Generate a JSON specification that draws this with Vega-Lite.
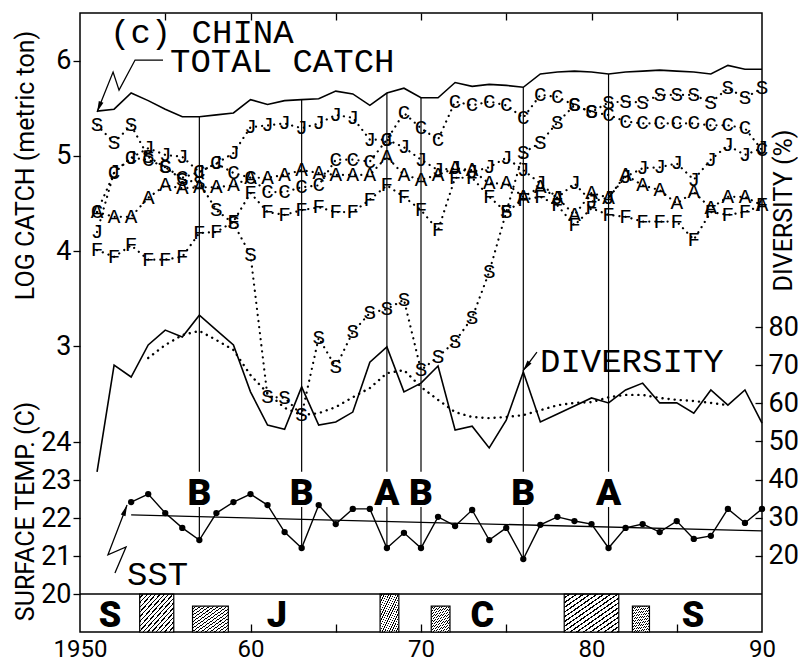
{
"$schema":"https://vega.github.io/schema/vega-lite/v6.json",
"width":682,"height":619,
"autosize":{"type":"none"},
"padding":{"left":80,"top":13,"right":36,"bottom":31},
"background":"white",
"config":{"view":{"stroke":"black","strokeWidth":1.5},
"axis":{"grid":false,"domain":false,"labelColor":"black","tickColor":"black","tickWidth":1.3,"labelFont":"Roboto","labelFontSize":27,"titleFont":"Roboto","titleFontSize":25,"titleFontWeight":"normal","titleColor":"black"}},
"datasets":{
"catch":[
{"year":1951,"s":"S","v":5.32},{"year":1952,"s":"S","v":5.14},{"year":1953,"s":"S","v":5.32},{"year":1954,"s":"S","v":4.99},{"year":1955,"s":"S","v":4.88},{"year":1956,"s":"S","v":4.75},{"year":1957,"s":"S","v":4.72},{"year":1958,"s":"S","v":4.43},{"year":1959,"s":"S","v":4.29},{"year":1960,"s":"S","v":3.96},{"year":1961,"s":"S","v":2.47},{"year":1962,"s":"S","v":2.46},{"year":1963,"s":"S","v":2.28},{"year":1964,"s":"S","v":3.09},{"year":1965,"s":"S","v":2.78},{"year":1966,"s":"S","v":3.15},{"year":1967,"s":"S","v":3.35},{"year":1968,"s":"S","v":3.39},{"year":1969,"s":"S","v":3.49},{"year":1970,"s":"S","v":2.75},{"year":1971,"s":"S","v":2.89},{"year":1972,"s":"S","v":3.05},{"year":1973,"s":"S","v":3.30},{"year":1974,"s":"S","v":3.78},{"year":1975,"s":"S","v":4.41},{"year":1976,"s":"S","v":5.03},{"year":1977,"s":"S","v":5.14},{"year":1978,"s":"S","v":5.35},{"year":1979,"s":"S","v":5.53},{"year":1980,"s":"S","v":5.46},{"year":1981,"s":"S","v":5.56},{"year":1982,"s":"S","v":5.57},{"year":1983,"s":"S","v":5.56},{"year":1984,"s":"S","v":5.64},{"year":1985,"s":"S","v":5.64},{"year":1986,"s":"S","v":5.64},{"year":1987,"s":"S","v":5.56},{"year":1988,"s":"S","v":5.71},{"year":1989,"s":"S","v":5.61},{"year":1990,"s":"S","v":5.71},
{"year":1951,"s":"J","v":4.20},{"year":1952,"s":"J","v":4.83},{"year":1953,"s":"J","v":4.98},{"year":1954,"s":"J","v":5.08},{"year":1955,"s":"J","v":5.01},{"year":1956,"s":"J","v":4.99},{"year":1957,"s":"J","v":4.83},{"year":1958,"s":"J","v":4.92},{"year":1959,"s":"J","v":5.03},{"year":1960,"s":"J","v":5.30},{"year":1961,"s":"J","v":5.32},{"year":1962,"s":"J","v":5.34},{"year":1963,"s":"J","v":5.29},{"year":1964,"s":"J","v":5.34},{"year":1965,"s":"J","v":5.43},{"year":1966,"s":"J","v":5.40},{"year":1967,"s":"J","v":5.17},{"year":1968,"s":"J","v":5.17},{"year":1969,"s":"J","v":5.09},{"year":1970,"s":"J","v":4.96},{"year":1971,"s":"J","v":4.85},{"year":1972,"s":"J","v":4.87},{"year":1973,"s":"J","v":4.83},{"year":1974,"s":"J","v":4.88},{"year":1975,"s":"J","v":4.98},{"year":1976,"s":"J","v":4.85},{"year":1977,"s":"J","v":4.71},{"year":1978,"s":"J","v":4.56},{"year":1979,"s":"J","v":4.71},{"year":1980,"s":"J","v":4.52},{"year":1981,"s":"J","v":4.56},{"year":1982,"s":"J","v":4.78},{"year":1983,"s":"J","v":4.87},{"year":1984,"s":"J","v":4.88},{"year":1985,"s":"J","v":4.92},{"year":1986,"s":"J","v":4.75},{"year":1987,"s":"J","v":4.96},{"year":1988,"s":"J","v":5.11},{"year":1989,"s":"J","v":5.01},{"year":1990,"s":"J","v":5.08},
{"year":1951,"s":"C","v":4.41},{"year":1952,"s":"C","v":4.82},{"year":1953,"s":"C","v":4.98},{"year":1954,"s":"C","v":4.96},{"year":1955,"s":"C","v":4.88},{"year":1956,"s":"C","v":4.77},{"year":1957,"s":"C","v":4.83},{"year":1958,"s":"C","v":4.92},{"year":1959,"s":"C","v":4.82},{"year":1960,"s":"C","v":4.77},{"year":1961,"s":"C","v":4.62},{"year":1962,"s":"C","v":4.62},{"year":1963,"s":"C","v":4.67},{"year":1964,"s":"C","v":4.69},{"year":1965,"s":"C","v":4.96},{"year":1966,"s":"C","v":4.96},{"year":1967,"s":"C","v":4.94},{"year":1968,"s":"C","v":5.17},{"year":1969,"s":"C","v":5.45},{"year":1970,"s":"C","v":5.29},{"year":1971,"s":"C","v":5.17},{"year":1972,"s":"C","v":5.57},{"year":1973,"s":"C","v":5.53},{"year":1974,"s":"C","v":5.57},{"year":1975,"s":"C","v":5.53},{"year":1976,"s":"C","v":5.40},{"year":1977,"s":"C","v":5.64},{"year":1978,"s":"C","v":5.62},{"year":1979,"s":"C","v":5.53},{"year":1980,"s":"C","v":5.46},{"year":1981,"s":"C","v":5.43},{"year":1982,"s":"C","v":5.36},{"year":1983,"s":"C","v":5.34},{"year":1984,"s":"C","v":5.34},{"year":1985,"s":"C","v":5.34},{"year":1986,"s":"C","v":5.34},{"year":1987,"s":"C","v":5.32},{"year":1988,"s":"C","v":5.32},{"year":1989,"s":"C","v":5.29},{"year":1990,"s":"C","v":5.06},
{"year":1951,"s":"A","v":4.41},{"year":1952,"s":"A","v":4.36},{"year":1953,"s":"A","v":4.36},{"year":1954,"s":"A","v":4.56},{"year":1955,"s":"A","v":4.69},{"year":1956,"s":"A","v":4.66},{"year":1957,"s":"A","v":4.67},{"year":1958,"s":"A","v":4.67},{"year":1959,"s":"A","v":4.69},{"year":1960,"s":"A","v":4.77},{"year":1961,"s":"A","v":4.77},{"year":1962,"s":"A","v":4.80},{"year":1963,"s":"A","v":4.85},{"year":1964,"s":"A","v":4.82},{"year":1965,"s":"A","v":4.80},{"year":1966,"s":"A","v":4.80},{"year":1967,"s":"A","v":4.80},{"year":1968,"s":"A","v":4.99},{"year":1969,"s":"A","v":4.80},{"year":1970,"s":"A","v":4.75},{"year":1971,"s":"A","v":4.80},{"year":1972,"s":"A","v":4.87},{"year":1973,"s":"A","v":4.85},{"year":1974,"s":"A","v":4.71},{"year":1975,"s":"A","v":4.71},{"year":1976,"s":"A","v":4.57},{"year":1977,"s":"A","v":4.67},{"year":1978,"s":"A","v":4.56},{"year":1979,"s":"A","v":4.38},{"year":1980,"s":"A","v":4.61},{"year":1981,"s":"A","v":4.56},{"year":1982,"s":"A","v":4.80},{"year":1983,"s":"A","v":4.69},{"year":1984,"s":"A","v":4.64},{"year":1985,"s":"A","v":4.50},{"year":1986,"s":"A","v":4.62},{"year":1987,"s":"A","v":4.45},{"year":1988,"s":"A","v":4.57},{"year":1989,"s":"A","v":4.57},{"year":1990,"s":"A","v":4.48},
{"year":1951,"s":"F","v":4.01},{"year":1952,"s":"F","v":3.94},{"year":1953,"s":"F","v":4.06},{"year":1954,"s":"F","v":3.91},{"year":1955,"s":"F","v":3.91},{"year":1956,"s":"F","v":3.94},{"year":1957,"s":"F","v":4.19},{"year":1958,"s":"F","v":4.20},{"year":1959,"s":"F","v":4.31},{"year":1960,"s":"F","v":4.61},{"year":1961,"s":"F","v":4.41},{"year":1962,"s":"F","v":4.38},{"year":1963,"s":"F","v":4.43},{"year":1964,"s":"F","v":4.46},{"year":1965,"s":"F","v":4.41},{"year":1966,"s":"F","v":4.41},{"year":1967,"s":"F","v":4.54},{"year":1968,"s":"F","v":4.69},{"year":1969,"s":"F","v":4.57},{"year":1970,"s":"F","v":4.43},{"year":1971,"s":"F","v":4.22},{"year":1972,"s":"F","v":4.77},{"year":1973,"s":"F","v":4.77},{"year":1974,"s":"F","v":4.57},{"year":1975,"s":"F","v":4.41},{"year":1976,"s":"F","v":4.54},{"year":1977,"s":"F","v":4.57},{"year":1978,"s":"F","v":4.48},{"year":1979,"s":"F","v":4.27},{"year":1980,"s":"F","v":4.45},{"year":1981,"s":"F","v":4.38},{"year":1982,"s":"F","v":4.36},{"year":1983,"s":"F","v":4.31},{"year":1984,"s":"F","v":4.31},{"year":1985,"s":"F","v":4.31},{"year":1986,"s":"F","v":4.12},{"year":1987,"s":"F","v":4.41},{"year":1988,"s":"F","v":4.38},{"year":1989,"s":"F","v":4.41},{"year":1990,"s":"F","v":4.48}
],
"total":[
{"year":1951,"v":5.47},{"year":1952,"v":5.49},{"year":1953,"v":5.66},{"year":1954,"v":5.58},{"year":1955,"v":5.49},{"year":1956,"v":5.41},{"year":1957,"v":5.41},{"year":1958,"v":5.43},{"year":1959,"v":5.45},{"year":1960,"v":5.59},{"year":1961,"v":5.54},{"year":1962,"v":5.58},{"year":1963,"v":5.59},{"year":1964,"v":5.60},{"year":1965,"v":5.68},{"year":1966,"v":5.65},{"year":1967,"v":5.53},{"year":1968,"v":5.66},{"year":1969,"v":5.71},{"year":1970,"v":5.61},{"year":1971,"v":5.61},{"year":1972,"v":5.77},{"year":1973,"v":5.73},{"year":1974,"v":5.75},{"year":1975,"v":5.74},{"year":1976,"v":5.72},{"year":1977,"v":5.86},{"year":1978,"v":5.88},{"year":1979,"v":5.89},{"year":1980,"v":5.88},{"year":1981,"v":5.86},{"year":1982,"v":5.88},{"year":1983,"v":5.89},{"year":1984,"v":5.90},{"year":1985,"v":5.89},{"year":1986,"v":5.88},{"year":1987,"v":5.86},{"year":1988,"v":5.95},{"year":1989,"v":5.91},{"year":1990,"v":5.91}
],
"events":[
{"year":1957,"lab":"B","tc":5.41,"sst":21.42},{"year":1963,"lab":"B","tc":5.59,"sst":21.21},{"year":1968,"lab":"A","tc":5.66,"sst":21.21},{"year":1970,"lab":"B","tc":5.61,"sst":21.21},{"year":1976,"lab":"B","tc":5.72,"sst":20.92},{"year":1981,"lab":"A","tc":5.86,"sst":21.21}
],
"div":[
{"year":1951,"v":42.0},{"year":1952,"v":70.0},{"year":1953,"v":66.9},{"year":1954,"v":75.3},{"year":1955,"v":79.2},{"year":1956,"v":77.4},{"year":1957,"v":83.1},{"year":1958,"v":79.2},{"year":1959,"v":75.3},{"year":1960,"v":63.0},{"year":1961,"v":54.3},{"year":1962,"v":53.2},{"year":1963,"v":64.3},{"year":1964,"v":54.3},{"year":1965,"v":55.1},{"year":1966,"v":57.7},{"year":1967,"v":70.8},{"year":1968,"v":74.8},{"year":1969,"v":63.0},{"year":1970,"v":65.3},{"year":1971,"v":69.8},{"year":1972,"v":53.0},{"year":1973,"v":54.0},{"year":1974,"v":48.3},{"year":1975,"v":55.6},{"year":1976,"v":68.2},{"year":1977,"v":55.1},{"year":1978,"v":57.2},{"year":1979,"v":59.3},{"year":1980,"v":61.4},{"year":1981,"v":60.1},{"year":1982,"v":63.5},{"year":1983,"v":65.3},{"year":1984,"v":60.1},{"year":1985,"v":60.1},{"year":1986,"v":57.4},{"year":1987,"v":63.5},{"year":1988,"v":59.5},{"year":1989,"v":63.5},{"year":1990,"v":54.8}
],
"divsmooth":[
{"year":1954,"v":71.9},{"year":1955,"v":75.3},{"year":1956,"v":77.9},{"year":1957,"v":79.0},{"year":1958,"v":76.6},{"year":1959,"v":74.0},{"year":1960,"v":67.4},{"year":1961,"v":62.7},{"year":1962,"v":58.8},{"year":1963,"v":56.9},{"year":1964,"v":57.4},{"year":1965,"v":59.0},{"year":1966,"v":61.6},{"year":1967,"v":64.0},{"year":1968,"v":67.9},{"year":1969,"v":68.7},{"year":1970,"v":64.3},{"year":1971,"v":60.9},{"year":1972,"v":57.7},{"year":1973,"v":56.4},{"year":1974,"v":56.1},{"year":1975,"v":56.4},{"year":1976,"v":56.9},{"year":1977,"v":58.2},{"year":1978,"v":59.5},{"year":1979,"v":60.1},{"year":1980,"v":60.3},{"year":1981,"v":61.6},{"year":1982,"v":62.2},{"year":1983,"v":62.2},{"year":1984,"v":61.4},{"year":1985,"v":60.9},{"year":1986,"v":60.6},{"year":1987,"v":60.1},{"year":1988,"v":59.5}
],
"sst":[
{"year":1953,"v":22.42},{"year":1954,"v":22.63},{"year":1955,"v":22.13},{"year":1956,"v":21.74},{"year":1957,"v":21.42},{"year":1958,"v":22.13},{"year":1959,"v":22.42},{"year":1960,"v":22.63},{"year":1961,"v":22.34},{"year":1962,"v":21.63},{"year":1963,"v":21.21},{"year":1964,"v":22.34},{"year":1965,"v":21.84},{"year":1966,"v":22.24},{"year":1967,"v":22.24},{"year":1968,"v":21.21},{"year":1969,"v":21.61},{"year":1970,"v":21.21},{"year":1971,"v":22.03},{"year":1972,"v":21.79},{"year":1973,"v":22.21},{"year":1974,"v":21.42},{"year":1975,"v":21.74},{"year":1976,"v":20.92},{"year":1977,"v":21.82},{"year":1978,"v":22.03},{"year":1979,"v":21.92},{"year":1980,"v":21.84},{"year":1981,"v":21.21},{"year":1982,"v":21.74},{"year":1983,"v":21.84},{"year":1984,"v":21.63},{"year":1985,"v":21.92},{"year":1986,"v":21.45},{"year":1987,"v":21.53},{"year":1988,"v":22.24},{"year":1989,"v":21.87},{"year":1990,"v":22.24}
],
"trend":[{"year":1953,"v":22.08},{"year":1990,"v":21.66}],
"boxes":[
{"x1":1953.5,"x2":1955.5,"top":20},{"x1":1956.6,"x2":1958.7,"top":19.68},{"x1":1967.6,"x2":1968.7,"top":20},{"x1":1970.6,"x2":1971.7,"top":19.68},{"x1":1978.4,"x2":1981.6,"top":20},{"x1":1982.4,"x2":1983.4,"top":19.68}
],
"regimes":[{"year":1951.76,"lab":"S"},{"year":1961.55,"lab":"J"},{"year":1973.6,"lab":"C"},{"year":1985.95,"lab":"S"}],
"leadCatch":[{"year":1954.87,"v":6.006,"o":1},{"year":1953.23,"v":6.006,"o":2},{"year":1952.29,"v":5.69,"o":3},{"year":1951.94,"v":5.88,"o":4},{"year":1951.0,"v":5.46,"o":5}],
"leadDiv":[{"year":1976.8,"v":73.4,"o":1},{"year":1975.98,"v":68.5,"o":2}],
"leadSst":[{"year":1952.05,"v":20.55,"o":1},{"year":1952.7,"v":21.24,"o":2},{"year":1951.64,"v":21.03,"o":3},{"year":1952.76,"v":22.34,"o":4}]
},
"resolve":{"scale":{"x":"independent","y":"independent"}},
"layer":[
{"layer":[
 {"data":{"name":"catch"},"mark":{"type":"line","color":"black","strokeDash":[0.1,6],"strokeCap":"round","strokeWidth":2.2},
  "encoding":{"x":{"field":"year","type":"quantitative","scale":{"domain":[1950,1990],"nice":false,"zero":false},"axis":{"orient":"bottom","values":[1950,1960,1970,1980,1990],"ticks":false,"labelPadding":5,"labelFontSize":24,"labelFlush":false,"title":null,"labelExpr":"datum.value == 1950 ? '1950' : '' + (datum.value % 100)"}},
   "y":{"field":"v","type":"quantitative","scale":{"domain":[0,6.5],"nice":false,"zero":false},"axis":{"orient":"left","values":[3,4,5,6],"format":"d","tickSize":7,"labelPadding":2,"title":"LOG CATCH (metric ton)","titleAngle":270,"titleX":-55,"titleY":152,"titleAlign":"center","titleBaseline":"middle"}},
   "detail":{"field":"s","type":"nominal"}}},
 {"data":{"name":"catch"},"mark":{"type":"text","font":"Liberation Mono, DejaVu Sans Mono, monospace","fontSize":21,"color":"black","baseline":"middle","align":"center"},
  "encoding":{"x":{"field":"year","type":"quantitative","scale":{"domain":[1950,1990],"nice":false,"zero":false}},
   "y":{"field":"v","type":"quantitative","scale":{"domain":[0,6.5],"nice":false,"zero":false}},
   "text":{"field":"s","type":"nominal"}}},
 {"data":{"name":"total"},"mark":{"type":"line","color":"black","strokeWidth":1.6},
  "encoding":{"x":{"field":"year","type":"quantitative","scale":{"domain":[1950,1990],"nice":false,"zero":false}},
   "y":{"field":"v","type":"quantitative","scale":{"domain":[0,6.5],"nice":false,"zero":false}}}},
 {"data":{"name":"events"},"mark":{"type":"rule","color":"black","strokeWidth":1.2},
  "encoding":{"x":{"field":"year","type":"quantitative","scale":{"domain":[1950,1990],"nice":false,"zero":false}},
   "y":{"field":"tc","type":"quantitative","scale":{"domain":[0,6.5],"nice":false,"zero":false}},
   "y2":{"datum":1.683}}},
 {"data":{"values":[{}]},"mark":{"type":"text","text":"(c) CHINA","font":"Liberation Mono, DejaVu Sans Mono, monospace","fontSize":34,"color":"black","align":"left","baseline":"alphabetic"},
  "encoding":{"x":{"datum":1951.76,"type":"quantitative","scale":{"domain":[1950,1990],"nice":false,"zero":false}},
   "y":{"datum":6.18,"type":"quantitative","scale":{"domain":[0,6.5],"nice":false,"zero":false}}}},
 {"data":{"values":[{}]},"mark":{"type":"text","text":"TOTAL CATCH","font":"Liberation Mono, DejaVu Sans Mono, monospace","fontSize":34,"color":"black","align":"left","baseline":"alphabetic"},
  "encoding":{"x":{"datum":1955.28,"type":"quantitative","scale":{"domain":[1950,1990],"nice":false,"zero":false}},
   "y":{"datum":5.88,"type":"quantitative","scale":{"domain":[0,6.5],"nice":false,"zero":false}}}},
 {"data":{"name":"leadCatch"},"mark":{"type":"line","color":"black","strokeWidth":1.3},
  "encoding":{"x":{"field":"year","type":"quantitative","scale":{"domain":[1950,1990],"nice":false,"zero":false}},
   "y":{"field":"v","type":"quantitative","scale":{"domain":[0,6.5],"nice":false,"zero":false}},
   "order":{"field":"o","type":"quantitative"}}},
 {"data":{"values":[{}]},"mark":{"type":"point","shape":"M0,0L0.5,2.2L-0.5,2.2Z","filled":true,"size":100,"angle":201.8,"color":"black","opacity":1},
  "encoding":{"x":{"datum":1951.0,"type":"quantitative","scale":{"domain":[1950,1990],"nice":false,"zero":false}},
   "y":{"datum":5.46,"type":"quantitative","scale":{"domain":[0,6.5],"nice":false,"zero":false}}}}
]},
{"layer":[
 {"data":{"name":"boxes"},"mark":{"type":"rect","stroke":"black","strokeWidth":1.2,"fill":{"gradient":"linear","x1":0,"y1":0,"x2":1,"y2":1,"stops":[
 {"offset":0,"color":"white"},{"offset":0.043,"color":"white"},{"offset":0.043,"color":"black"},{"offset":0.0625,"color":"black"},
 {"offset":0.0625,"color":"white"},{"offset":0.1055,"color":"white"},{"offset":0.1055,"color":"black"},{"offset":0.125,"color":"black"},
 {"offset":0.125,"color":"white"},{"offset":0.168,"color":"white"},{"offset":0.168,"color":"black"},{"offset":0.1875,"color":"black"},
 {"offset":0.1875,"color":"white"},{"offset":0.2305,"color":"white"},{"offset":0.2305,"color":"black"},{"offset":0.25,"color":"black"},
 {"offset":0.25,"color":"white"},{"offset":0.293,"color":"white"},{"offset":0.293,"color":"black"},{"offset":0.3125,"color":"black"},
 {"offset":0.3125,"color":"white"},{"offset":0.3555,"color":"white"},{"offset":0.3555,"color":"black"},{"offset":0.375,"color":"black"},
 {"offset":0.375,"color":"white"},{"offset":0.418,"color":"white"},{"offset":0.418,"color":"black"},{"offset":0.4375,"color":"black"},
 {"offset":0.4375,"color":"white"},{"offset":0.4805,"color":"white"},{"offset":0.4805,"color":"black"},{"offset":0.5,"color":"black"},
 {"offset":0.5,"color":"white"},{"offset":0.543,"color":"white"},{"offset":0.543,"color":"black"},{"offset":0.5625,"color":"black"},
 {"offset":0.5625,"color":"white"},{"offset":0.6055,"color":"white"},{"offset":0.6055,"color":"black"},{"offset":0.625,"color":"black"},
 {"offset":0.625,"color":"white"},{"offset":0.668,"color":"white"},{"offset":0.668,"color":"black"},{"offset":0.6875,"color":"black"},
 {"offset":0.6875,"color":"white"},{"offset":0.7305,"color":"white"},{"offset":0.7305,"color":"black"},{"offset":0.75,"color":"black"},
 {"offset":0.75,"color":"white"},{"offset":0.793,"color":"white"},{"offset":0.793,"color":"black"},{"offset":0.8125,"color":"black"},
 {"offset":0.8125,"color":"white"},{"offset":0.8555,"color":"white"},{"offset":0.8555,"color":"black"},{"offset":0.875,"color":"black"},
 {"offset":0.875,"color":"white"},{"offset":0.918,"color":"white"},{"offset":0.918,"color":"black"},{"offset":0.9375,"color":"black"},
 {"offset":0.9375,"color":"white"},{"offset":0.9805,"color":"white"},{"offset":0.9805,"color":"black"},{"offset":1,"color":"black"}]}},
  "encoding":{"x":{"field":"x1","type":"quantitative","scale":{"domain":[1950,1990],"nice":false,"zero":false},"axis":{"orient":"bottom","offset":-8,"tickSize":8,"labels":false,"values":[1955,1960,1965,1970,1975,1980,1985],"title":null}},
   "x2":{"field":"x2"},
   "y":{"field":"top","type":"quantitative","scale":{"domain":[19,35.29],"nice":false,"zero":false},"axis":{"orient":"left","values":[20,21,22,23,24],"format":"d","tickSize":7,"labelPadding":2,"title":"SURFACE TEMP. (C)","titleAngle":270,"titleX":-55,"titleY":498,"titleAlign":"center","titleBaseline":"middle"}},
   "y2":{"datum":19}}},
 {"data":{"values":[{"v":20}]},"mark":{"type":"rule","color":"black","strokeWidth":1.5},
  "encoding":{"y":{"field":"v","type":"quantitative","scale":{"domain":[19,35.29],"nice":false,"zero":false}}}},
 {"data":{"name":"regimes"},"mark":{"type":"text","font":"Roboto","fontWeight":900,"fontSize":36,"color":"black","align":"center","baseline":"alphabetic"},
  "encoding":{"x":{"field":"year","type":"quantitative","scale":{"domain":[1950,1990],"nice":false,"zero":false}},
   "y":{"datum":19.13,"type":"quantitative","scale":{"domain":[19,35.29],"nice":false,"zero":false}},
   "text":{"field":"lab","type":"nominal"}}},
 {"data":{"name":"events"},"mark":{"type":"text","font":"Roboto","fontWeight":900,"fontSize":37,"color":"black","align":"center","baseline":"alphabetic"},
  "encoding":{"x":{"field":"year","type":"quantitative","scale":{"domain":[1950,1990],"nice":false,"zero":false}},
   "y":{"datum":22.34,"type":"quantitative","scale":{"domain":[19,35.29],"nice":false,"zero":false}},
   "text":{"field":"lab","type":"nominal"}}},
 {"data":{"name":"events"},"mark":{"type":"rule","color":"black","strokeWidth":1.2},
  "encoding":{"x":{"field":"year","type":"quantitative","scale":{"domain":[1950,1990],"nice":false,"zero":false}},
   "y":{"field":"sst","type":"quantitative","scale":{"domain":[19,35.29],"nice":false,"zero":false}},
   "y2":{"datum":22.29}}},
 {"data":{"name":"trend"},"mark":{"type":"line","color":"black","strokeWidth":1.3},
  "encoding":{"x":{"field":"year","type":"quantitative","scale":{"domain":[1950,1990],"nice":false,"zero":false}},
   "y":{"field":"v","type":"quantitative","scale":{"domain":[19,35.29],"nice":false,"zero":false}}}},
 {"data":{"name":"sst"},"mark":{"type":"line","color":"black","strokeWidth":1.4},
  "encoding":{"x":{"field":"year","type":"quantitative","scale":{"domain":[1950,1990],"nice":false,"zero":false}},
   "y":{"field":"v","type":"quantitative","scale":{"domain":[19,35.29],"nice":false,"zero":false}}}},
 {"data":{"name":"sst"},"mark":{"type":"circle","color":"black","size":40,"opacity":1},
  "encoding":{"x":{"field":"year","type":"quantitative","scale":{"domain":[1950,1990],"nice":false,"zero":false}},
   "y":{"field":"v","type":"quantitative","scale":{"domain":[19,35.29],"nice":false,"zero":false}}}},
 {"data":{"values":[{}]},"mark":{"type":"text","text":"SST","font":"Liberation Mono, DejaVu Sans Mono, monospace","fontSize":34,"color":"black","align":"left","baseline":"alphabetic"},
  "encoding":{"x":{"datum":1952.76,"type":"quantitative","scale":{"domain":[1950,1990],"nice":false,"zero":false}},
   "y":{"datum":20.24,"type":"quantitative","scale":{"domain":[19,35.29],"nice":false,"zero":false}}}},
 {"data":{"name":"leadSst"},"mark":{"type":"line","color":"black","strokeWidth":1.3},
  "encoding":{"x":{"field":"year","type":"quantitative","scale":{"domain":[1950,1990],"nice":false,"zero":false}},
   "y":{"field":"v","type":"quantitative","scale":{"domain":[19,35.29],"nice":false,"zero":false}},
   "order":{"field":"o","type":"quantitative"}}},
 {"data":{"values":[{}]},"mark":{"type":"point","shape":"M0,0L0.5,2.2L-0.5,2.2Z","filled":true,"size":100,"angle":20.8,"color":"black","opacity":1},
  "encoding":{"x":{"datum":1952.76,"type":"quantitative","scale":{"domain":[1950,1990],"nice":false,"zero":false}},
   "y":{"datum":22.34,"type":"quantitative","scale":{"domain":[19,35.29],"nice":false,"zero":false}}}}
]},
{"layer":[
 {"data":{"name":"div"},"mark":{"type":"line","color":"black","strokeWidth":1.6},
  "encoding":{"x":{"field":"year","type":"quantitative","scale":{"domain":[1950,1990],"nice":false,"zero":false},"axis":{"orient":"top","offset":-7,"tickSize":7,"labels":false,"values":[1955,1960,1965,1970,1975,1980,1985],"title":null}},
   "y":{"field":"v","type":"quantitative","scale":{"domain":[0,162.4],"nice":false,"zero":false},"axis":{"orient":"right","offset":-7,"tickSize":7,"labelPadding":6,"values":[20,30,40,50,60,70,80],"format":"d","title":"DIVERSITY (%)","titleAngle":270,"titleX":28,"titleY":197,"titleAlign":"center","titleBaseline":"middle"}}}},
 {"data":{"name":"divsmooth"},"mark":{"type":"line","color":"black","strokeDash":[0.1,6],"strokeCap":"round","strokeWidth":2.4},
  "encoding":{"x":{"field":"year","type":"quantitative","scale":{"domain":[1950,1990],"nice":false,"zero":false}},
   "y":{"field":"v","type":"quantitative","scale":{"domain":[0,162.4],"nice":false,"zero":false}}}},
 {"data":{"values":[{}]},"mark":{"type":"text","text":"DIVERSITY","font":"Liberation Mono, DejaVu Sans Mono, monospace","fontSize":34,"color":"black","align":"left","baseline":"alphabetic"},
  "encoding":{"x":{"datum":1976.98,"type":"quantitative","scale":{"domain":[1950,1990],"nice":false,"zero":false}},
   "y":{"datum":68.2,"type":"quantitative","scale":{"domain":[0,162.4],"nice":false,"zero":false}}}},
 {"data":{"name":"leadDiv"},"mark":{"type":"line","color":"black","strokeWidth":1.3},
  "encoding":{"x":{"field":"year","type":"quantitative","scale":{"domain":[1950,1990],"nice":false,"zero":false}},
   "y":{"field":"v","type":"quantitative","scale":{"domain":[0,162.4],"nice":false,"zero":false}},
   "order":{"field":"o","type":"quantitative"}}},
 {"data":{"values":[{}]},"mark":{"type":"point","shape":"M0,0L0.5,2.2L-0.5,2.2Z","filled":true,"size":100,"angle":216.4,"color":"black","opacity":1},
  "encoding":{"x":{"datum":1975.98,"type":"quantitative","scale":{"domain":[1950,1990],"nice":false,"zero":false}},
   "y":{"datum":68.5,"type":"quantitative","scale":{"domain":[0,162.4],"nice":false,"zero":false}}}}
]}
]
}
